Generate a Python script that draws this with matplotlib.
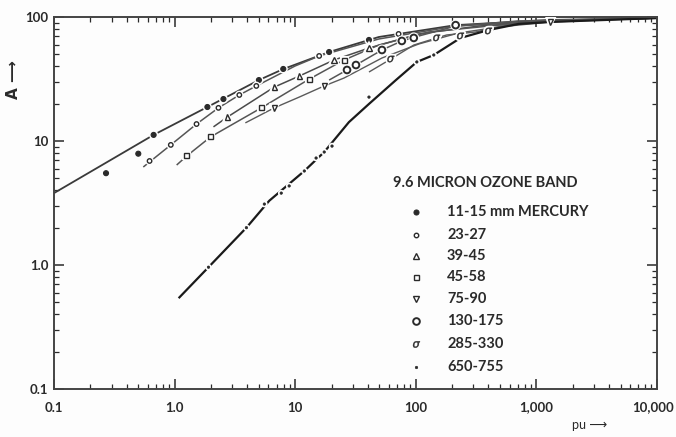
import matplotlib.pyplot as plt
import matplotlib.patheffects as pe
import matplotlib.transforms as mtransforms
from matplotlib.lines import Line2D
from matplotlib.ticker import LogLocator, NullFormatter

# Absorption A against pu for the 9.6 micron ozone band, grouped by pressure
group_labels = ["11-15 mm MERCURY", "23-27", "39-45", "45-58",
                "75-90", "130-175", "285-330", "650-755"]

# measured points of each group
pu_11 = [0.27, 0.50, 0.67, 1.87, 2.54, 5.0, 7.96, 19.1, 40.9]
A_11 = [5.5, 7.9, 11.2, 18.8, 21.8, 31, 38.1, 52.2, 65.3]
pu_23 = [0.62, 0.93, 1.52, 2.31, 3.44, 4.76, 15.8, 72]
A_23 = [6.9, 9.3, 13.7, 18.5, 23.5, 27.8, 48.5, 73]
pu_39 = [2.74, 6.70, 10.8, 21.0, 40.9]
A_39 = [15.6, 27.2, 33.4, 45, 56.2]
pu_45 = [1.26, 1.99, 5.24, 13.1, 25.4]
A_45 = [7.57, 10.8, 18.5, 31.6, 45]
pu_75 = [6.70, 17.4, 1306]
A_75 = [18.5, 27.8, 91.2]
pu_130 = [26.9, 31.9, 52.4, 76.6, 96.2, 214]
A_130 = [37.4, 41, 54.2, 64.1, 67.8, 86]
pu_285 = [62.1, 149, 235, 401]
A_285 = [45.8, 67.8, 70.3, 77.1]
pu_650 = [1.91, 3.94, 5.55, 7.66, 8.91, 11.9, 14.9, 17.4, 20.2, 40.9, 102, 141]
A_650 = [0.96, 2.0, 3.1, 3.8, 4.34, 5.73, 7.29, 8.15, 9.1, 22.6, 43.4, 49.4]

# hand-drawn curves through each group
curve_pu_11 = [0.1, 0.67, 1.87, 5.0, 8.0, 19.1, 49.4, 214, 1256, 10000]
curve_A_11 = [3.8, 11.2, 18.8, 31, 38.1, 52.2, 69, 86, 94.6, 98]
curve_pu_23 = [0.55, 0.93, 1.52, 2.31, 3.44, 4.76, 10, 15.8, 49.4, 214, 1256, 10000]
curve_A_23 = [6.17, 9.3, 13.7, 18.5, 23.5, 27.8, 40.3, 48.5, 66.5, 84.5, 92.9, 98]
curve_pu_39 = [2.10, 2.74, 6.70, 10.8, 21.0, 40.9, 106, 332, 1520, 10000]
curve_A_39 = [13.0, 15.6, 27.2, 33.4, 45, 56.2, 73, 84.5, 92.9, 98]
curve_pu_45 = [1.04, 1.26, 1.99, 5.24, 13.1, 25.4, 49.4, 128, 485, 2220, 10000]
curve_A_45 = [6.4, 7.57, 10.8, 18.5, 31.6, 45, 59.4, 75.7, 86, 94.6, 98]
curve_pu_75 = [3.86, 6.70, 10.8, 17.4, 25.4, 52.4, 106, 226, 485, 1306, 10000]
curve_A_75 = [14.0, 18.5, 22.6, 27.8, 32.2, 46.7, 60.6, 74.3, 83.0, 91.2, 98]
curve_pu_130 = [19.1, 26.9, 31.9, 52.4, 76.6, 106, 214, 710, 10000]
curve_A_130 = [31, 37.4, 41, 54.2, 64.1, 70.3, 84.5, 92.9, 98]
curve_pu_285 = [40.9, 62.1, 96.2, 149, 180, 313, 514, 1256, 10000]
curve_A_285 = [36.0, 45.8, 59.4, 67.8, 71.6, 75.7, 84.5, 92.9, 98]
curve_pu_650 = [1.08, 1.91, 3.94, 6.10, 11.9, 17.4, 27.9, 40.9, 68.4, 102, 141,
                235, 401, 710, 1306, 10000]
curve_A_650 = [0.54, 0.96, 2.0, 3.3, 5.73, 8.15, 14.2, 19.9, 31, 43.4, 49.4,
               67.8, 78.5, 87.9, 91.2, 98]

x_ticks = [0.1, 1, 10, 100, 1000, 10000]
x_ticklabels = ["0.1", "1.0", "10", "100", "1,000", "10,000"]
y_ticks = [0.1, 1, 10, 100]
y_ticklabels = ["0.1", "1.0", "10", "100"]

ink = "#2a2a2a"
FONT = "Lato"

points = [(pu_11, A_11), (pu_23, A_23), (pu_39, A_39), (pu_45, A_45),
          (pu_75, A_75), (pu_130, A_130), (pu_285, A_285), (pu_650, A_650)]
curves = [(curve_pu_11, curve_A_11), (curve_pu_23, curve_A_23),
          (curve_pu_39, curve_A_39), (curve_pu_45, curve_A_45),
          (curve_pu_75, curve_A_75), (curve_pu_130, curve_A_130),
          (curve_pu_285, curve_A_285), (curve_pu_650, curve_A_650)]

# marker style per group
styles = [
    dict(marker="o", markersize=3.6, markerfacecolor=ink, markeredgewidth=0.8),
    dict(marker="o", markersize=3.2, markerfacecolor="white", markeredgewidth=1.0),
    dict(marker="^", markersize=3.8, markerfacecolor="white", markeredgewidth=1.0),
    dict(marker="s", markersize=3.6, markerfacecolor="white", markeredgewidth=1.0),
    dict(marker="v", markersize=3.8, markerfacecolor="white", markeredgewidth=1.0),
    dict(marker="o", markersize=4.8, markerfacecolor="white", markeredgewidth=1.4),
    dict(marker=r"$\sigma$", markersize=5, markerfacecolor=ink, markeredgewidth=0.3),
    dict(marker=".", markersize=3.5, markerfacecolor=ink, markeredgewidth=0.5),
]
line_colors = ["#3a3a3a", "#555555", "#4a4a4a", "#555555",
               "#5a5a5a", "#555555", "#5a5a5a", "#1a1a1a"]
line_widths = [1.3, 1.1, 1.1, 1.1, 1.0, 1.1, 1.0, 1.6]
# white ring round each marker so the curve breaks at the points
halo = [pe.withStroke(linewidth=3, foreground="#fdfdfd")]

fig = plt.figure(figsize=(6.76, 4.37), dpi=100)
fig.patch.set_facecolor("#fdfdfd")
ax = fig.add_axes([54 / 676, 1 - 389 / 437, 603 / 676, 372 / 437])
ax.set_facecolor("#fdfdfd")

for (cx, cy), (px, py), st, lc, lw in zip(curves, points, styles,
                                          line_colors, line_widths):
    ax.plot(cx, cy, color=lc, lw=lw, solid_capstyle="butt", zorder=2)
    ax.plot(px, py, ls="none", color=ink, markeredgecolor=ink, zorder=3,
            path_effects=halo, **st)

ax.set_xscale("log")
ax.set_yscale("log")
ax.set_xlim(0.1, 10000)
ax.set_ylim(0.1, 100)

ax.set_xticks(x_ticks, x_ticklabels)
ax.set_yticks(y_ticks, y_ticklabels)
ax.xaxis.set_minor_locator(LogLocator(base=10, subs=range(2, 10)))
ax.yaxis.set_minor_locator(LogLocator(base=10, subs=range(2, 10)))
ax.xaxis.set_minor_formatter(NullFormatter())
ax.yaxis.set_minor_formatter(NullFormatter())
ax.tick_params(which="both", direction="in", top=True, right=True,
               colors=ink, labelcolor=ink)
ax.tick_params(which="major", length=7, width=1.1)
ax.tick_params(which="minor", length=3.5, width=0.9)
ax.tick_params(axis="x", which="major", pad=9)
ax.tick_params(axis="y", which="major", pad=4)
for lab in ax.get_xticklabels() + ax.get_yticklabels():
    lab.set_fontfamily(FONT)
    lab.set_fontweight("bold")
    lab.set_fontsize(9.5)

# keep the last x label inside the figure edge
last = ax.get_xticklabels()[-1]
last.set_horizontalalignment("right")
last.set_transform(last.get_transform()
                   + mtransforms.ScaledTranslation(0.17, 0, fig.dpi_scale_trans))

for sp in ax.spines.values():
    sp.set_color("#444444")
    sp.set_linewidth(1.4)

# axis captions with arrows
fig.text(14 / 676, 1 - 80 / 437, "A \u27f6", rotation=90, ha="center",
         va="center", fontsize=11, fontweight="bold", color=ink,
         family=["DejaVu Sans"])
fig.text(590 / 676, 1 - 425 / 437, "pu \u27f6", ha="center", va="center",
         fontsize=9, color=ink, family=[FONT, "DejaVu Sans"])

# key
fig.text(393 / 676, 1 - 183 / 437, "9.6 MICRON OZONE BAND", ha="left",
         va="center", fontsize=10.5, fontweight="bold", color=ink,
         family=FONT)
key_rows = [212, 235, 256, 277, 299, 321, 344, 367]
for row, label, st in zip(key_rows, group_labels, styles):
    fig.add_artist(Line2D([416 / 676], [1 - row / 437], ls="none",
                          color=ink, markeredgecolor=ink,
                          transform=fig.transFigure, **st))
    fig.text(447 / 676, 1 - row / 437, label, ha="left", va="center",
             fontsize=10.5, fontweight="bold", color=ink, family=FONT)

fig.savefig("out.png", dpi=100, facecolor=fig.get_facecolor())
